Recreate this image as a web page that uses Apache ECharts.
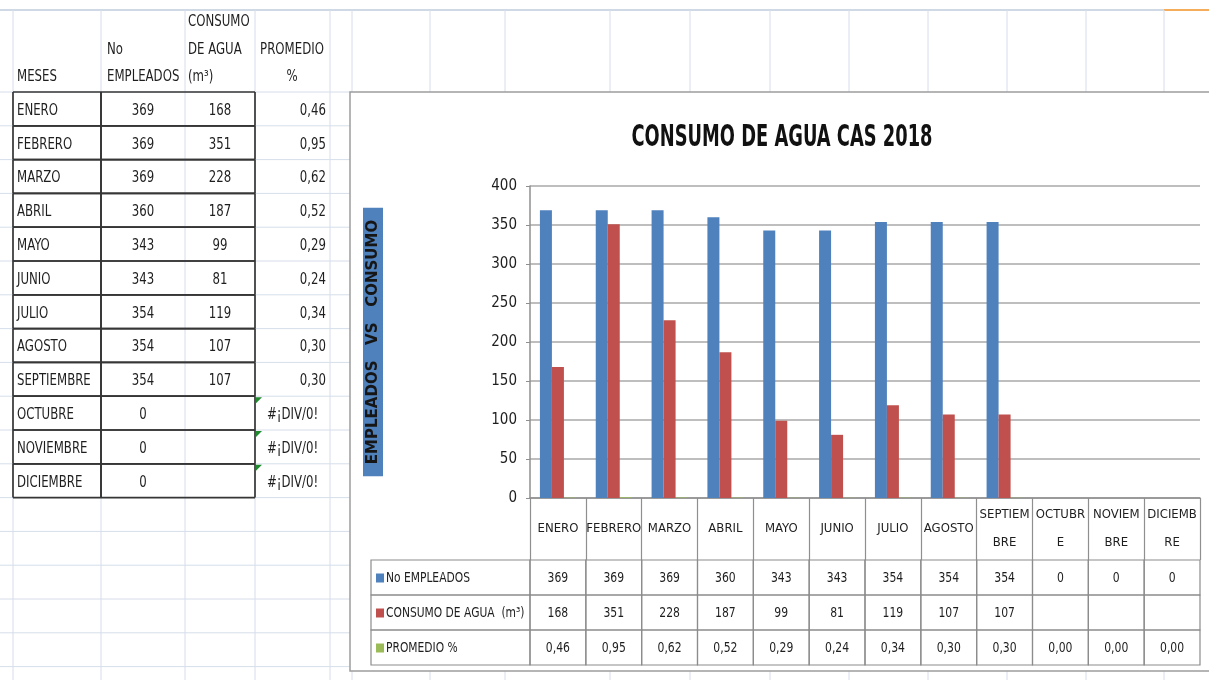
<!DOCTYPE html>
<html>
<head>
<meta charset="utf-8">
<script src="https://cdn.jsdelivr.net/npm/echarts@6/dist/echarts.min.js"></script>
<style>
html,body{margin:0;padding:0;background:#fff;}
#c{width:1209px;height:680px;}
</style>
</head>
<body>
<div id="c"></div>
<script>
// ---------------- data ----------------
const months = ['ENERO','FEBRERO','MARZO','ABRIL','MAYO','JUNIO','JULIO','AGOSTO','SEPTIEMBRE','OCTUBRE','NOVIEMBRE','DICIEMBRE'];
const monthsWrapped = ['ENERO','FEBRERO','MARZO','ABRIL','MAYO','JUNIO','JULIO','AGOSTO','SEPTIEM\nBRE','OCTUBR\nE','NOVIEM\nBRE','DICIEMB\nRE'];
const empleados = [369,369,369,360,343,343,354,354,354,0,0,0];
const consumo = [168,351,228,187,99,81,119,107,107,null,null,null];
const promedio = [0.46,0.95,0.62,0.52,0.29,0.24,0.34,0.30,0.30,0,0,0];
const promedioSheet = ['0,46','0,95','0,62','0,52','0,29','0,24','0,34','0,30','0,30','#¡DIV/0!','#¡DIV/0!','#¡DIV/0!'];
const seriesNames = ['No EMPLEADOS','CONSUMO DE AGUA  (m³)','PROMEDIO %'];
const sheetHeaders = ['MESES','No\nEMPLEADOS','CONSUMO\nDE AGUA\n(m³)','PROMEDIO\n%'];
const chartTitle = 'CONSUMO DE AGUA CAS 2018';
const yAxisTitle = 'EMPLEADOS   VS   CONSUMO';

// ---------------- styles / layout ----------------
const NARROW = "'Liberation Sans Narrow','Arial Narrow','DejaVu Sans Condensed',sans-serif";
const INK = '#1e1e1e';
const DARK = '#363636';
const LIGHT = '#d6deea';
const COLORS = ['#4F81BD','#C0504D','#9BBB59'];
const ROW_H = 33.8;
const SHEET_TOP = 92;
const LEG_W = 159;
const SHEET_SX = 0.87;
const TABLE_SX = 0.86;

const fmt2 = v => v.toFixed(2).replace('.', ',');
const sheetTexts = [
  months,
  empleados.map(String),
  consumo.map(v => v == null ? '' : String(v)),
  promedioSheet
];
const sheetCols = [
  {left:13,  width:88, align:'left',   bl:true,  br:true,  bh:true},
  {left:101, width:84, align:'center', bl:true,  br:false, bh:true},
  {left:185, width:70, align:'center', bl:false, br:true,  bh:true},
  {left:255, width:75, align:'right',  bl:false, br:false, bh:false}
];
const tableTexts = [
  empleados.map(String),
  consumo.map(v => v == null ? '' : String(v)),
  promedio.map(fmt2)
];

// ---------------- background spreadsheet lines ----------------
function ln(x1,y1,x2,y2,color,w){
  return {type:'line', z:-10, silent:true, shape:{x1,y1,x2,y2}, style:{stroke:color, lineWidth:w||1}};
}
const graphics = [];
graphics.push(ln(0,10,1164,10,'#bfcbdc',1.5));
graphics.push(ln(1164,10,1209,10,'#f5ad5b',2));
[13,101,185,255,330,352,430,505,610,690,770,849,928,1007,1086,1164].forEach(x => graphics.push(ln(x,10,x,680,LIGHT)));
for (let k = 0; k <= 17; k++) {
  const y = SHEET_TOP + k*ROW_H;
  graphics.push(ln(0,y,352,y,LIGHT));
}
// chart area box
graphics.push({type:'rect', z:-5, silent:true, shape:{x:350,y:92,width:880,height:579},
  style:{fill:'#ffffff', stroke:'#9d9d9d', lineWidth:1.5}});
// sheet headers
const headerPos = [
  {x:17, align:'left'}, {x:107, align:'left'}, {x:188, align:'left'}, {x:292, align:'center'}
];
sheetHeaders.forEach((t,i) => {
  graphics.push({type:'text', z:5, silent:true, x:headerPos[i].x, y:91, scaleX:SHEET_SX,
    style:{text:t, x:0, y:0, align:headerPos[i].align, verticalAlign:'bottom',
      font:'15px ' + NARROW, lineHeight:27.5, fill:INK}});
});
// chart title (condensed like the original)
graphics.push({type:'text', z:5, silent:true, x:782, y:138, scaleX:0.64,
  style:{text:chartTitle, x:0, y:0, align:'center', verticalAlign:'middle',
    font:'bold 31px ' + NARROW, fill:'#111'}});

// ---------------- grids / axes ----------------
const grids = [], xAxes = [], yAxes = [], series = [];
sheetCols.forEach((col, i) => {
  grids.push({left:col.left, top:SHEET_TOP, width:col.width, height:12*ROW_H, outerBoundsMode:'none'});
  xAxes.push({type:'category', gridIndex:i, data:[sheetHeaders[i]], show:false});
  yAxes.push({type:'category', gridIndex:i, data:months, inverse:true, show:false});
  series.push({
    type:'custom', xAxisIndex:i, yAxisIndex:i, silent:true,
    data: months.map((m, r) => [0, r]),
    renderItem: function(params, api){
      const r = api.value(1);
      const p = api.coord([0, r]);
      const h = api.size([0, 1])[1];
      const x0 = params.coordSys.x, x1 = x0 + params.coordSys.width;
      const y0 = p[1] - h/2, y1 = p[1] + h/2;
      const txt = sheetTexts[i][params.dataIndex];
      const kids = [];
      const ls = {stroke:DARK, lineWidth:1.7};
      if (col.bh) {
        kids.push({type:'line', shape:{x1:x0,y1:y0,x2:x1,y2:y0}, style:ls});
        kids.push({type:'line', shape:{x1:x0,y1:y1,x2:x1,y2:y1}, style:ls});
      }
      if (col.bl) kids.push({type:'line', shape:{x1:x0,y1:y0,x2:x0,y2:y1}, style:ls});
      if (col.br) kids.push({type:'line', shape:{x1:x1,y1:y0,x2:x1,y2:y1}, style:ls});
      let align = col.align, tx;
      const isErr = txt.charAt(0) === '#';
      if (isErr) align = 'center';
      if (align === 'left') tx = x0 + 4;
      else if (align === 'right') tx = x1 - 4;
      else tx = (x0 + x1) / 2;
      if (isErr) {
        kids.push({type:'polygon', shape:{points:[[x0+1,y0+1],[x0+7,y0+1],[x0+1,y0+7]]}, style:{fill:'#1f8a2e'}});
      }
      kids.push({type:'text', x:tx, y:p[1]+2, scaleX:SHEET_SX,
        style:{text:txt, x:0, y:0, align:align, verticalAlign:'middle',
        font:'15px ' + NARROW, fill:INK}});
      return {type:'group', children:kids};
    }
  });
});

// main chart grid (index 4)
grids.push({left:530, top:186, width:670, height:312, outerBoundsMode:'none'});
xAxes.push({
  type:'category', gridIndex:4, data:months,
  axisLine:{show:true, lineStyle:{color:'#8f8f8f', width:1.5}},
  axisTick:{show:true, interval:0, length:62, alignWithLabel:false, lineStyle:{color:'#8f8f8f', width:1.2}},
  axisLabel:{show:true, interval:0, margin:31, verticalAlign:'middle', lineHeight:28,
    formatter:(v, idx) => monthsWrapped[idx],
    fontFamily:NARROW, fontSize:13, color:INK},
  splitLine:{show:false}
});
yAxes.push({
  type:'value', gridIndex:4, min:0, max:400, interval:50,
  name:yAxisTitle, nameLocation:'middle', nameRotate:90, nameGap:147,
  nameTextStyle:{backgroundColor:'#4F81BD', padding:[3,12,2,12], lineHeight:15,
    fontFamily:"'DejaVu Sans',sans-serif", fontWeight:'bold', fontSize:15, color:'#161616'},
  axisLine:{show:true, lineStyle:{color:'#8f8f8f', width:1.5}},
  axisTick:{show:true, length:4, lineStyle:{color:'#8f8f8f'}},
  axisLabel:{margin:13, fontFamily:NARROW, fontSize:15, color:INK},
  splitLine:{show:true, lineStyle:{color:'#a8a8a8', width:1.5}}
});
seriesNames.forEach((nm, s) => {
  series.push({
    type:'bar', name:nm, xAxisIndex:4, yAxisIndex:4,
    data:[empleados, consumo, promedio][s],
    barWidth:12, barGap:'0%',
    itemStyle:{color:COLORS[s]}
  });
});

// data table grid (index 5)
grids.push({left:530, top:560, width:670, height:105, outerBoundsMode:'none'});
xAxes.push({type:'category', gridIndex:5, data:months, show:false});
yAxes.push({type:'category', gridIndex:5, data:seriesNames, inverse:true, show:false});
const tableData = [];
for (let r = 0; r < 3; r++) for (let c = 0; c < 12; c++) tableData.push([c, r]);
series.push({
  type:'custom', xAxisIndex:5, yAxisIndex:5, silent:true,
  data: tableData,
  renderItem: function(params, api){
    const c = api.value(0), r = api.value(1);
    const p = api.coord([c, r]);
    const sz = api.size([1, 1]);
    const x0 = p[0] - sz[0]/2, y0 = p[1] - sz[1]/2;
    const cellStyle = {fill:null, stroke:'#8c8c8c', lineWidth:1.2};
    const kids = [
      {type:'rect', shape:{x:x0, y:y0, width:sz[0], height:sz[1]}, style:cellStyle},
      {type:'text', x:p[0], y:p[1]+1, scaleX:TABLE_SX,
        style:{text:tableTexts[r][c], x:0, y:0, align:'center', verticalAlign:'middle',
        font:'14px ' + NARROW, fill:INK}}
    ];
    if (c === 0) {
      const lx = params.coordSys.x - LEG_W;
      kids.push({type:'rect', shape:{x:lx, y:y0, width:LEG_W, height:sz[1]}, style:cellStyle});
      kids.push({type:'rect', shape:{x:lx+5, y:p[1]-4, width:8, height:9}, style:{fill:COLORS[r]}});
      kids.push({type:'text', x:lx+15, y:p[1]+1, scaleX:0.85,
        style:{text:seriesNames[r], x:0, y:0, align:'left', verticalAlign:'middle',
        font:'14px ' + NARROW, fill:INK}});
    }
    return {type:'group', children:kids};
  }
});

const chart = echarts.init(document.getElementById('c'));
chart.setOption({
  animation:false,
  backgroundColor:'#ffffff',
  grid:grids, xAxis:xAxes, yAxis:yAxes, series:series,
  graphic:{elements:graphics}
});
</script>
</body>
</html>
